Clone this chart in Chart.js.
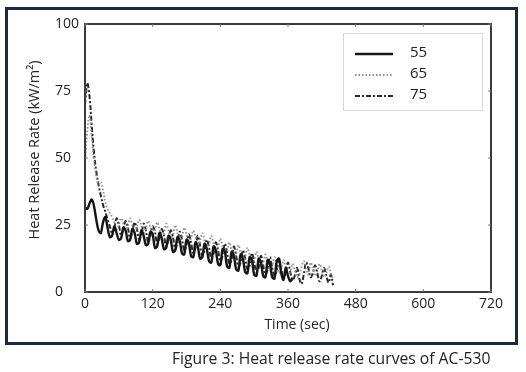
<!DOCTYPE html>
<html>
<head>
<meta charset="utf-8">
<script src="https://cdn.jsdelivr.net/npm/chart.js@4.4.0/dist/chart.umd.min.js"></script>
<style>
  html, body { margin: 0; padding: 0; background: #fff; }
  body { width: 526px; height: 372px; position: relative; overflow: hidden; font-family: "Open Sans", sans-serif; }
  #frame { position: absolute; left: 5px; top: 7px; width: 513px; height: 338px; box-sizing: border-box; border: 3px solid #1b2a44; }
  #wrap { position: absolute; left: 0; top: 0; width: 526px; height: 372px; }
  #caption { position: absolute; left: 172px; top: 347px; font-size: 15.7px; color: #222; white-space: nowrap; }
</style>
</head>
<body>
<div id="frame"></div>
<div id="wrap"><canvas id="myChart" width="526" height="372"></canvas></div>
<div id="caption">Figure 3: Heat release rate curves of AC-530</div>
<script>
// time (sec), sampled every 4 s
const times = [0, 4, 8, 12, 16, 20, 24, 28, 32, 36, 40, 44, 48, 52, 56, 60, 64, 68, 72, 76,
  80, 84, 88, 92, 96, 100, 104, 108, 112, 116, 120, 124, 128, 132, 136, 140, 144, 148, 152, 156,
  160, 164, 168, 172, 176, 180, 184, 188, 192, 196, 200, 204, 208, 212, 216, 220, 224, 228, 232, 236,
  240, 244, 248, 252, 256, 260, 264, 268, 272, 276, 280, 284, 288, 292, 296, 300, 304, 308, 312, 316,
  320, 324, 328, 332, 336, 340, 344, 348, 352, 356, 360, 364, 368, 372, 376, 380, 384, 388, 392, 396,
  400, 404, 408, 412, 416, 420, 424, 428, 432, 436, 440];

// heat release rate (kW/m2)
const hrr55 = [31.5, 31, 33, 34.5, 32, 27, 23, 22, 26, 28, 24, 20.5, 21, 24.5, 22, 19.5, 20, 24, 23, 19,
  19.5, 23.5, 22, 18, 18.5, 23, 21, 17.5, 18, 22.5, 21.5, 16.5, 17, 22, 20, 16, 16.5, 21, 19.5, 15,
  15.5, 20.5, 19, 14.5, 14, 19.5, 18.5, 13.5, 13, 18.5, 17, 12.5, 13, 18, 16, 11.5, 11, 17, 15.5, 10.5,
  10, 16, 15, 9.5, 9, 15, 13.5, 8.5, 8, 14, 12.5, 7.5, 7, 13, 12, 6.5, 6, 12.5, 11, 6,
  5.5, 12, 10.5, 5.5, 5, 11.5, 12.5, 7, 4.5, 9, 6, 4, 5];

const hrr65 = [48, 60, 66, 58, 49, 43, 40, 41, 38, 33.5, 31, 29.5, 28, 26, 23.5, 25, 27.5, 25.5, 23, 24.5,
  27.5, 25, 22.5, 24, 27, 24.5, 22, 23.5, 26.5, 24, 21.5, 23, 26, 23.5, 20.5, 22, 25.5, 23, 20, 21.5,
  25, 22, 19, 20.5, 24, 21.5, 18.5, 20, 23, 20.5, 17.5, 19, 22, 19, 16, 17.5, 21, 18, 15, 16.5,
  20, 17, 14, 15, 18.5, 15.5, 12.5, 14, 17.5, 14.5, 11.5, 13, 16.5, 13.5, 10.5, 12, 15, 12, 9.5, 10.5,
  14, 11, 8, 9.5, 13, 10, 7, 8.5, 12, 9, 6.5, 7.5, 10.5, 8, 5.5, 6.5, 9.5, 11.5, 8.5, 6.5,
  11, 9, 6, 7.5, 10.5, 8, 5.5, 7, 9.5, 7, 4.5];

const hrr75 = [70, 78, 73, 62, 52, 45, 40, 36, 32.5, 30, 27, 24.5, 22, 24, 27.5, 25, 21, 23.5, 26.5, 24,
  20, 22.5, 26, 23.5, 19.5, 21.5, 25.5, 23, 18.5, 21, 24.5, 22.5, 18, 20, 23.5, 21, 17, 19.5, 23, 20.5,
  16, 18.5, 22.5, 19.5, 15.5, 17.5, 21.5, 18.5, 14.5, 16.5, 21, 17.5, 13.5, 15.5, 19.5, 16.5, 12.5, 14.5, 18.5, 15.5,
  11.5, 13.5, 18, 14.5, 10.5, 12, 17, 13.5, 9.5, 11, 15.5, 12.5, 8.5, 10, 14.5, 11, 7.5, 9, 13.5, 10,
  6.5, 8.5, 13, 9, 6, 8, 12, 8.5, 5, 7.5, 11, 7.5, 4.5, 6, 9, 5, 3, 6.5, 11, 9,
  5.5, 7, 10, 7, 4, 6, 9, 6, 3.5, 6.5, 2.5];

const seriesNames = ['55', '65', '75'];
const xTicks = [0, 120, 240, 360, 480, 600, 720];
const yTicks = [0, 25, 50, 75, 100];

function toPoints(vals) {
  return vals.map((v, i) => ({ x: times[i], y: v }));
}

const FONT = '"Open Sans", sans-serif';

// plot frame, inward ticks, axis titles and legend
const decorations = {
  id: 'decorations',
  afterDraw(chart) {
    const { ctx, chartArea: a, scales } = chart;
    ctx.save();
    ctx.strokeStyle = '#3a3a3a';
    ctx.lineWidth = 2;
    ctx.strokeRect(a.left, a.top, a.right - a.left, a.bottom - a.top);
    ctx.lineWidth = 1;
    ctx.strokeStyle = '#777';
    xTicks.forEach(t => {
      const px = scales.x.getPixelForValue(t);
      ctx.beginPath();
      ctx.moveTo(px, a.top); ctx.lineTo(px, a.top + 3);
      ctx.moveTo(px, a.bottom); ctx.lineTo(px, a.bottom - 3);
      ctx.stroke();
    });
    yTicks.forEach(t => {
      const py = scales.y.getPixelForValue(t);
      ctx.beginPath();
      ctx.moveTo(a.left, py); ctx.lineTo(a.left + 3, py);
      ctx.moveTo(a.right, py); ctx.lineTo(a.right - 3, py);
      ctx.stroke();
    });

    ctx.fillStyle = '#222';
    ctx.font = '14px ' + FONT;
    ctx.textAlign = 'center';
    ctx.textBaseline = 'middle';
    ctx.fillText('Time (sec)', 297, 325);

    ctx.font = '14.5px ' + FONT;
    ctx.translate(35, 150);
    ctx.rotate(-Math.PI / 2);
    ctx.fillText('Heat Release Rate (kW/m\u00B2)', 0, 0);
    ctx.restore();

    // legend
    ctx.save();
    ctx.strokeStyle = '#d8d8d8';
    ctx.lineWidth = 1;
    ctx.strokeRect(343.5, 33.5, 139, 77);
    chart.data.datasets.forEach((ds, i) => {
      const y = 53 + i * 21;
      ctx.strokeStyle = ds.borderColor;
      ctx.lineWidth = ds.borderWidth;
      ctx.setLineDash(ds.borderDash || []);
      ctx.beginPath();
      ctx.moveTo(355, y + 1);
      ctx.lineTo(393, y + 1);
      ctx.stroke();
      ctx.setLineDash([]);
      ctx.fillStyle = '#222';
      ctx.font = '15px ' + FONT;
      ctx.textAlign = 'left';
      ctx.textBaseline = 'middle';
      ctx.fillText(ds.label, 410, y);
    });
    ctx.restore();
  }
};

var ctx = document.getElementById('myChart').getContext('2d');
var chart = new Chart(ctx, {
  type: 'line',
  data: {
    datasets: [
      {
        label: seriesNames[0],
        data: toPoints(hrr55),
        borderColor: '#161616',
        borderWidth: 2.4,
        tension: 0.35
      },
      {
        label: seriesNames[1],
        data: toPoints(hrr65),
        borderColor: '#8c8c8c',
        borderWidth: 1.8,
        borderDash: [1.5, 2],
        tension: 0.35
      },
      {
        label: seriesNames[2],
        data: toPoints(hrr75),
        borderColor: '#2a2a2a',
        borderWidth: 2,
        borderDash: [5, 2, 2, 2],
        tension: 0.35
      }
    ]
  },
  options: {
    responsive: false,
    animation: false,
    devicePixelRatio: 1,
    elements: { point: { radius: 0 } },
    layout: { padding: { left: 55, top: 24, right: 35, bottom: 40 } },
    plugins: {
      legend: { display: false },
      tooltip: { enabled: false }
    },
    scales: {
      x: {
        type: 'linear',
        min: 0,
        max: 720,
        afterBuildTicks: s => { s.ticks = xTicks.map(v => ({ value: v })); },
        afterFit: s => { s.height = 40; },
        grid: { display: false, drawTicks: false },
        border: { display: false },
        ticks: { color: '#222', font: { family: FONT, size: 14 }, padding: 4, maxRotation: 0 }
      },
      y: {
        min: 0,
        max: 100,
        afterBuildTicks: s => { s.ticks = yTicks.map(v => ({ value: v })); },
        afterFit: s => { s.width = 30; },
        grid: { display: false, drawTicks: false },
        border: { display: false },
        ticks: { color: '#222', font: { family: FONT, size: 14 }, crossAlign: 'far', padding: 4 }
      }
    }
  },
  plugins: [decorations]
});
</script>
</body>
</html>
